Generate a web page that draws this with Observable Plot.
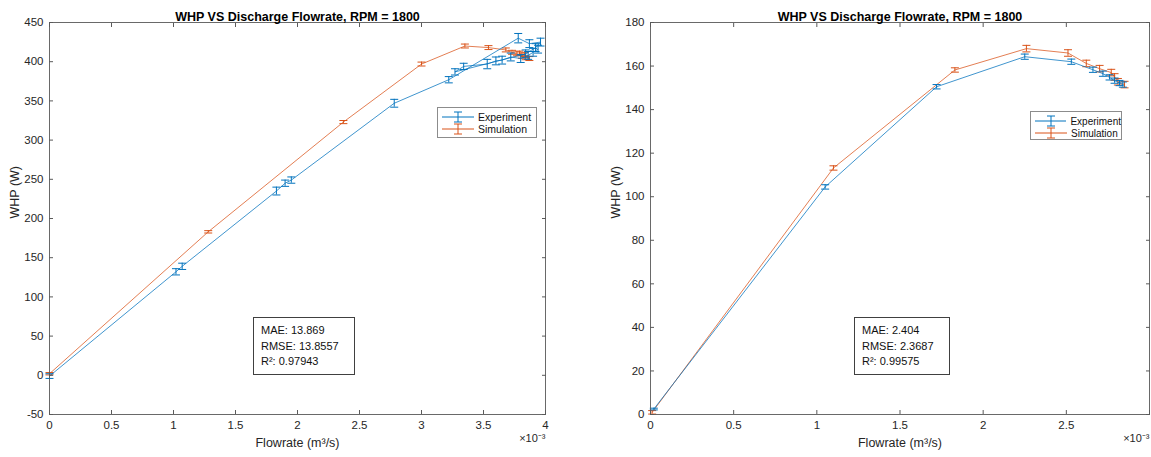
<!DOCTYPE html>
<html><head><meta charset="utf-8">
<script src="https://cdn.jsdelivr.net/npm/d3@7"></script>
<script src="https://cdn.jsdelivr.net/npm/@observablehq/plot@0.6"></script>
<style>
body{margin:0;background:#fff;font-family:"Liberation Sans",Arial,Helvetica,sans-serif;}
#wrap{position:relative;width:1151px;height:457px;overflow:hidden;background:#fff;}
.panel{position:absolute;top:0;}
.legend{position:absolute;border:1px solid #8c8c8c;background:#fff;color:#111;box-sizing:border-box;padding-top:3px;}
.legend .row{display:flex;align-items:center;height:12px;}
.legend svg{margin-left:4px;margin-right:4px;}
.note{position:absolute;border:1px solid #404040;background:#fff;color:#111;font-size:11px;box-sizing:border-box;padding:5px 0 0 7px;line-height:15.5px;}
</style></head><body><div id="wrap"></div><script>
// ---------- data (flowrate in 1e-3 m^3/s, WHP in W) ----------
const title = "WHP VS Discharge Flowrate, RPM = 1800";
const xLabel = "Flowrate (m³/s)";
const yLabel = "WHP (W)";
const exponentLabel = "×10⁻³";
const seriesNames = ["Experiment", "Simulation"];

const leftExpFlow = [0, 1.02, 1.07, 1.83, 1.90, 1.95, 2.78, 3.22, 3.78, 3.87, 3.96, 3.92, 3.84, 3.27, 3.34, 3.53, 3.60, 3.65, 3.72, 3.80, 3.86, 3.90, 3.94];
const leftExpWHP  = [-1, 132, 139, 235, 245, 249, 347, 377, 430, 423, 425, 418, 410, 387, 394, 397, 401, 402, 406, 404, 408, 412, 416];
const leftExpErr  = [3, 4, 4, 5, 4, 4, 5, 4, 6, 5, 5, 5, 5, 4, 4, 6, 5, 5, 5, 5, 5, 5, 5];
const leftSimFlow = [0, 1.28, 2.37, 3.00, 3.35, 3.54, 3.68, 3.73, 3.77, 3.81, 3.84, 3.87, 3.83, 3.79];
const leftSimWHP  = [2, 183, 323, 397, 420, 418, 415, 412, 410, 407, 405, 404, 409, 411];
const leftSimErr  = [1.5, 1.5, 2, 2.5, 2.5, 2.5, 2.5, 2.5, 2.5, 2.5, 2.5, 2.5, 2.5, 2.5];
const leftStats = ["MAE: 13.869", "RMSE: 13.8557", "R²: 0.97943"];
const leftXTicks = [0, 0.5, 1, 1.5, 2, 2.5, 3, 3.5, 4];
const leftYTicks = [-50, 0, 50, 100, 150, 200, 250, 300, 350, 400, 450];

const rightExpFlow = [0.02, 1.05, 1.72, 2.25, 2.53, 2.66, 2.72, 2.76, 2.79, 2.82, 2.84];
const rightExpWHP  = [2.5, 104.5, 150.5, 164.3, 162, 158.3, 156.5, 154.8, 153.3, 152.2, 151.5];
const rightExpErr  = [0.4, 1, 1, 1.2, 1.2, 1.2, 1.2, 1.2, 1.2, 1.2, 1.2];
const rightSimFlow = [0.01, 1.10, 1.83, 2.26, 2.51, 2.62, 2.70, 2.77, 2.79, 2.81, 2.85];
const rightSimWHP  = [1, 113.2, 158.2, 168, 166, 161.2, 158.8, 157, 155, 152.8, 151.5];
const rightSimErr  = [0.8, 1, 1, 1.5, 1.5, 1.5, 1.5, 1.5, 1.5, 1.5, 1.5];
const rightStats = ["MAE: 2.404", "RMSE: 2.3687", "R²: 0.99575"];
const rightXTicks = [0, 0.5, 1, 1.5, 2, 2.5, 3];
const rightYTicks = [0, 20, 40, 60, 80, 100, 120, 140, 160, 180];

const BLUE = "#0072BD", ORANGE = "#D95319";
const zip = (xs, ys, es) => xs.map((x, i) => ({x, y: ys[i], e: es[i]}));

const cap = {draw(ctx) { ctx.moveTo(-4, 0); ctx.lineTo(4, 0); }};
function errMarks(data, color) {
  return [
    Plot.line(data, {x: "x", y: "y", stroke: color, strokeWidth: 1, strokeOpacity: 0.75}),
    Plot.ruleX(data, {x: "x", y1: d => d.y - d.e, y2: d => d.y + d.e, stroke: color, strokeWidth: 1}),
    Plot.dot(data, {x: "x", y: d => d.y - d.e, symbol: cap, fill: "none", stroke: color, strokeWidth: 1, r: 3}),
    Plot.dot(data, {x: "x", y: d => d.y + d.e, symbol: cap, fill: "none", stroke: color, strokeWidth: 1, r: 3})
  ];
}

function panel({width, marginLeft, marginRight, xDomain, yDomain, xTicks, yTicks, exp, sim, xFmt}) {
  return Plot.plot({
    width, height: 457, marginTop: 22, marginBottom: 43, marginLeft, marginRight,
    x: {domain: xDomain, label: null},
    y: {domain: yDomain, label: null},
    style: {fontFamily: '"Liberation Sans", Arial, Helvetica, sans-serif', fontSize: "11.5px", color: "#262626", background: "transparent", overflow: "visible"},
    marks: [
      ...errMarks(sim, ORANGE),
      ...errMarks(exp, BLUE),
      Plot.frame({stroke: "#5a5a5a", strokeWidth: 0.9}),
      Plot.axisX({anchor: "bottom", ticks: xTicks, tickSize: -4, tickPadding: 10, tickFormat: xFmt, stroke: "#5a5a5a", fill: "#262626", label: null}),
      Plot.axisX({anchor: "top", ticks: xTicks, tickSize: -4, tickFormat: () => "", stroke: "#5a5a5a", label: null}),
      Plot.axisY({anchor: "left", ticks: yTicks, tickSize: -4, tickPadding: 10, tickFormat: d => String(d), stroke: "#5a5a5a", fill: "#262626", label: null}),
      Plot.axisY({anchor: "right", ticks: yTicks, tickSize: -4, tickFormat: () => "", stroke: "#5a5a5a", label: null}),
      Plot.text([title], {frameAnchor: "top", dy: -10, fontWeight: "bold", fontSize: 12.5, fill: "#000"}),
      Plot.text([xLabel], {frameAnchor: "bottom", dy: 32, fontSize: 12.5, fill: "#262626"}),
      Plot.text([yLabel], {frameAnchor: "left", dx: -35, rotate: -90, fontSize: 12.5, fill: "#262626"}),
      Plot.text([exponentLabel], {frameAnchor: "bottom-right", dy: 27, textAnchor: "end", fontSize: 11, fill: "#262626"})
    ]
  });
}

const wrap = document.getElementById("wrap");
function place(el, left) { el.classList.add("panel"); el.style.left = left + "px"; wrap.appendChild(el); }

place(panel({width: 575, marginLeft: 49, marginRight: 30, xDomain: [0, 4], yDomain: [-50, 450],
  xTicks: leftXTicks, yTicks: leftYTicks, xFmt: d => String(d),
  exp: zip(leftExpFlow, leftExpWHP, leftExpErr), sim: zip(leftSimFlow, leftSimWHP, leftSimErr)}), 0);
place(panel({width: 576, marginLeft: 75, marginRight: 2, xDomain: [0, 3], yDomain: [0, 180],
  xTicks: rightXTicks, yTicks: rightYTicks, xFmt: d => d === 3 ? "" : String(d),
  exp: zip(rightExpFlow, rightExpWHP, rightExpErr), sim: zip(rightSimFlow, rightSimWHP, rightSimErr)}), 575);

function icon(color) {
  return `<svg width="32" height="12"><line x1="0" y1="6" x2="32" y2="6" stroke="${color}" stroke-width="1"/>` +
    `<line x1="16" y1="1" x2="16" y2="11" stroke="${color}"/><line x1="12" y1="1" x2="20" y2="1" stroke="${color}"/>` +
    `<line x1="12" y1="11" x2="20" y2="11" stroke="${color}"/></svg>`;
}
function legend(left, top, w, h, fs) {
  const d = document.createElement("div");
  d.className = "legend";
  Object.assign(d.style, {left: left + "px", top: top + "px", width: w + "px", height: h + "px", fontSize: fs + "px"});
  d.innerHTML = seriesNames.map((n, i) => `<div class="row">${icon(i ? ORANGE : BLUE)}<span>${n}</span></div>`).join("");
  wrap.appendChild(d);
}
function note(left, top, w, h, lines) {
  const d = document.createElement("div");
  d.className = "note";
  Object.assign(d.style, {left: left + "px", top: top + "px", width: w + "px", height: h + "px"});
  d.innerHTML = lines.map(l => `<div>${l}</div>`).join("");
  wrap.appendChild(d);
}
legend(437, 107, 100, 31, 10.5);
legend(1030, 111, 92, 29, 10);
note(253, 317, 102, 58, leftStats);
note(854, 317, 96, 58, rightStats);
</script></body></html>
